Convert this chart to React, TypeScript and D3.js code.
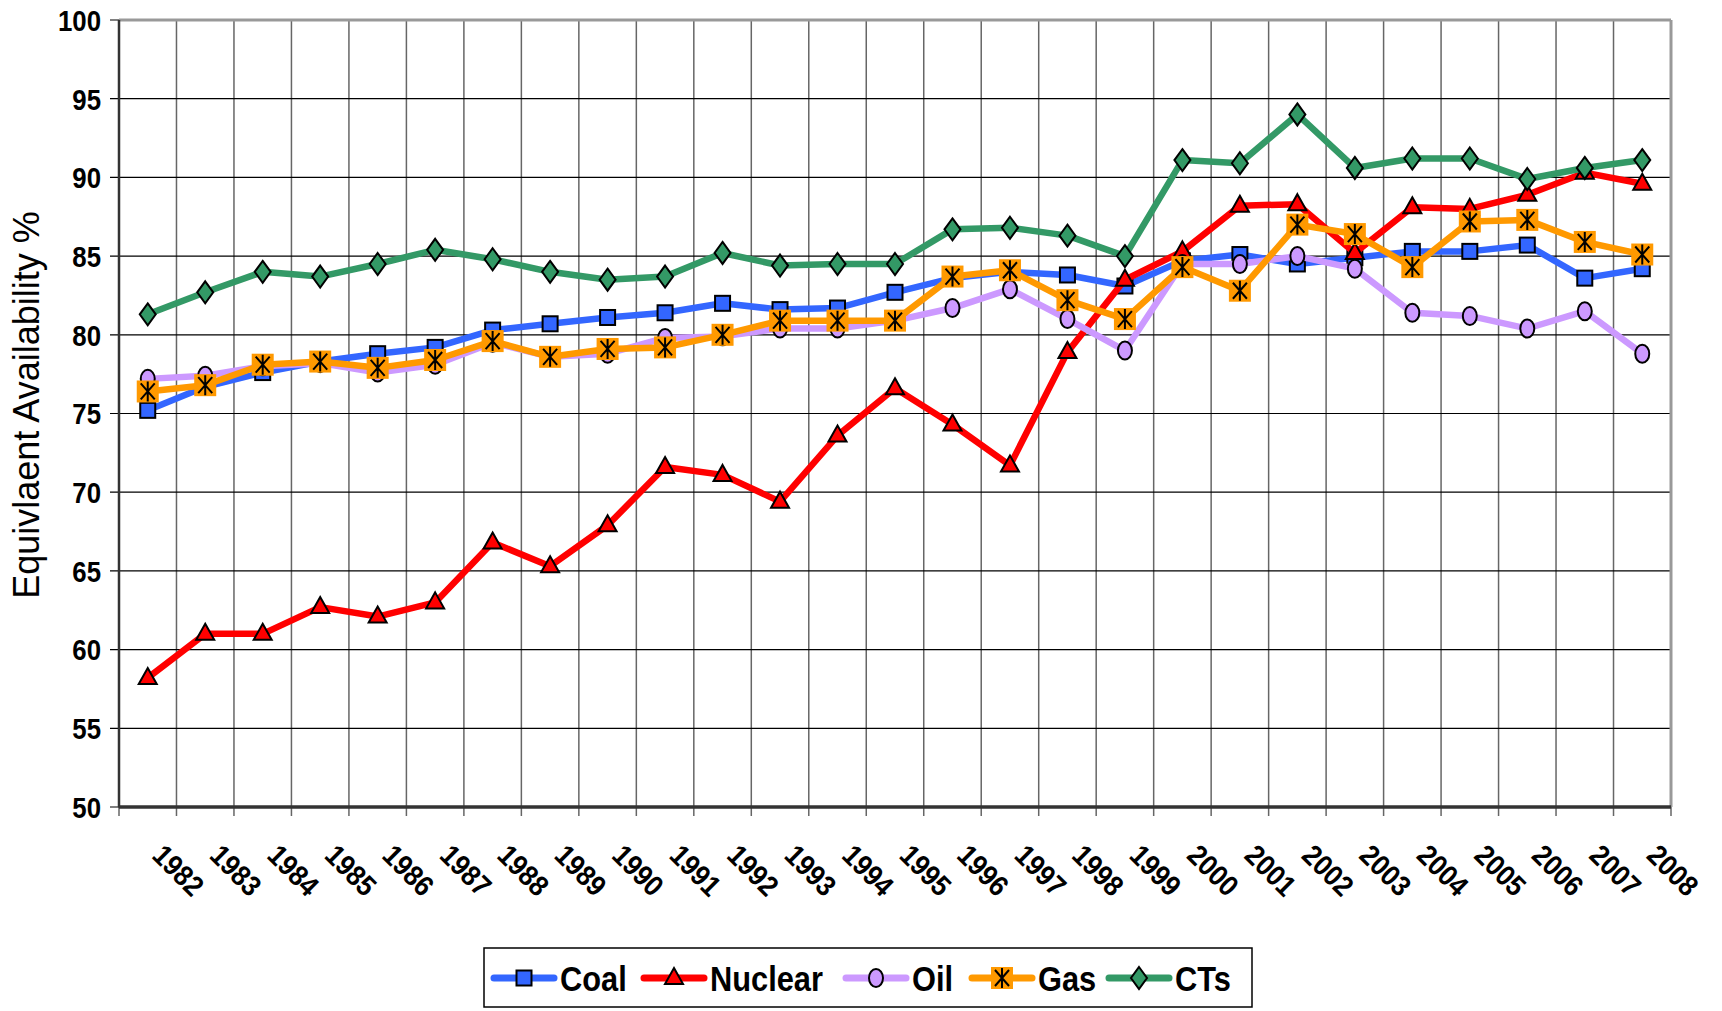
import React from 'react'
import * as d3 from 'd3'

const years = [
  '1982', '1983', '1984', '1985', '1986', '1987', '1988', '1989', '1990',
  '1991', '1992', '1993', '1994', '1995', '1996', '1997', '1998', '1999',
  '2000', '2001', '2002', '2003', '2004', '2005', '2006', '2007', '2008',
]

const coal = [75.2, 76.7, 77.6, 78.3, 78.8, 79.2, 80.3, 80.7, 81.1, 81.4, 82.0, 81.6, 81.7, 82.7, 83.6, 84.0, 83.8, 83.1, 84.7, 85.1, 84.5, 84.9, 85.3, 85.3, 85.7, 83.6, 84.2]
const nuclear = [58.2, 61.0, 61.0, 62.7, 62.1, 63.0, 66.8, 65.3, 67.9, 71.6, 71.1, 69.4, 73.6, 76.6, 74.3, 71.7, 78.9, 83.5, 85.3, 88.2, 88.3, 85.2, 88.1, 88.0, 88.9, 90.3, 89.6]
const oil = [77.2, 77.4, 78.0, 78.2, 77.6, 78.1, 79.5, 78.6, 78.8, 79.8, 79.9, 80.4, 80.4, 80.9, 81.7, 82.9, 81.0, 79.0, 84.5, 84.5, 85.0, 84.2, 81.4, 81.2, 80.4, 81.5, 78.8]
const gas = [76.4, 76.8, 78.1, 78.3, 77.9, 78.4, 79.6, 78.6, 79.1, 79.2, 80.0, 80.9, 80.9, 80.9, 83.7, 84.1, 82.2, 81.0, 84.3, 82.8, 87.0, 86.4, 84.3, 87.2, 87.3, 85.9, 85.1]
const cts = [81.3, 82.7, 84.0, 83.7, 84.5, 85.4, 84.8, 84.0, 83.5, 83.7, 85.2, 84.4, 84.5, 84.5, 86.7, 86.8, 86.3, 85.0, 91.1, 90.9, 94.0, 90.6, 91.2, 91.2, 89.9, 90.6, 91.1]

const yTicks = [50, 55, 60, 65, 70, 75, 80, 85, 90, 95, 100]

type MarkerKind = 'square' | 'triangle' | 'circle' | 'star' | 'diamond'

const series: { name: string; values: number[]; color: string; marker: MarkerKind }[] = [
  { name: 'Coal', values: coal, color: '#3366FF', marker: 'square' },
  { name: 'Nuclear', values: nuclear, color: '#FF0000', marker: 'triangle' },
  { name: 'Oil', values: oil, color: '#CC99FF', marker: 'circle' },
  { name: 'Gas', values: gas, color: '#FF9900', marker: 'star' },
  { name: 'CTs', values: cts, color: '#339966', marker: 'diamond' },
]

const W = 1722
const H = 1011
const plot = { left: 119, right: 1671, top: 20, bottom: 807 }

function Marker({ kind, color, x, y }: { kind: MarkerKind; color: string; x: number; y: number }) {
  const t = `translate(${x},${y})`
  if (kind === 'square')
    return <rect transform={t} x={-7.5} y={-7.5} width={15} height={15} fill={color} stroke="#000" strokeWidth={2} />
  if (kind === 'triangle')
    return <path transform={t} d="M0,-10L9,6L-9,6Z" fill={color} stroke="#000" strokeWidth={2} />
  if (kind === 'circle')
    return <ellipse transform={t} rx={7} ry={9} fill={color} stroke="#000" strokeWidth={2} />
  if (kind === 'diamond')
    return <path transform={t} d="M0,-11L8,0L0,11L-8,0Z" fill={color} stroke="#000" strokeWidth={2} />
  return (
    <g transform={t}>
      <rect x={-11} y={-11} width={22} height={22} fill={color} />
      <path d="M0,-10V10M-7,-8L7,8M7,-8L-7,8" stroke="#000" strokeWidth={2} fill="none" />
    </g>
  )
}

export default function App() {
  const x = d3.scaleBand<string>().domain(years).range([plot.left, plot.right]).padding(0)
  const y = d3.scaleLinear().domain([50, 100]).range([plot.bottom, plot.top])
  const cx = (yr: string) => (x(yr) ?? 0) + x.bandwidth() / 2

  const line = d3.line<number>()
    .x((_, i) => cx(years[i]))
    .y(d => y(d))

  const boundaries = years.map(yr => x(yr) ?? 0).concat([plot.right])

  // legend item start positions
  const legendItems = [
    { i: 0, x: 494 },
    { i: 1, x: 644 },
    { i: 2, x: 846 },
    { i: 3, x: 972 },
    { i: 4, x: 1109 },
  ]

  return (
    <svg width={W} height={H} style={{ position: 'absolute', left: 0, top: 0, background: '#fff' }}
      fontFamily="'Liberation Sans', Arial, sans-serif">
      <rect width={W} height={H} fill="#fff" />

      {/* vertical grid */}
      {boundaries.map((bx, i) => (
        <line key={'v' + i} x1={bx} x2={bx} y1={plot.top} y2={plot.bottom + 9} stroke="#666" strokeWidth={1.5} />
      ))}
      {/* horizontal grid */}
      {yTicks.map(t => (
        <line key={'h' + t} x1={plot.left - 9} x2={plot.right} y1={y(t)} y2={y(t)} stroke="#000" strokeWidth={1.2} />
      ))}
      <line x1={plot.left} x2={plot.right} y1={plot.top} y2={plot.top} stroke="#999" strokeWidth={3} />
      <line x1={plot.right} x2={plot.right} y1={plot.top} y2={plot.bottom} stroke="#999" strokeWidth={3} />
      <line x1={plot.left} x2={plot.left} y1={plot.top} y2={plot.bottom} stroke="#333" strokeWidth={2.5} />
      <line x1={plot.left} x2={plot.right} y1={plot.bottom} y2={plot.bottom} stroke="#333" strokeWidth={3.5} />

      {/* y tick labels */}
      {yTicks.map(t => (
        <text key={'yl' + t} transform={`translate(101,${y(t)}) scale(0.86,1)`} dy="0.36em" textAnchor="end"
          fontSize={30} fontWeight="bold">{t}</text>
      ))}

      {/* x tick labels */}
      {years.map(yr => (
        <text key={'xl' + yr} transform={`translate(${cx(yr) + 3},${plot.bottom + 50}) rotate(45) scale(0.9,1)`}
          fontSize={29} fontWeight="bold">{yr}</text>
      ))}

      <text transform={`translate(39,405) rotate(-90)`} textAnchor="middle" fontSize={36}>
        Equivlaent Availability %
      </text>

      {/* series */}
      {series.map(s => (
        <g key={s.name}>
          <path d={line(s.values) ?? ''} fill="none" stroke={s.color} strokeWidth={6.5} strokeLinejoin="round" />
          {s.values.map((v, i) => (
            <Marker key={i} kind={s.marker} color={s.color} x={cx(years[i])} y={y(v)} />
          ))}
        </g>
      ))}

      {/* legend */}
      <rect x={484} y={948} width={768} height={59} fill="#fff" stroke="#000" strokeWidth={1.5} />
      {legendItems.map(({ i, x: lx }) => {
        const s = series[i]
        return (
          <g key={'lg' + s.name}>
            <line x1={lx} x2={lx + 60} y1={978} y2={978} stroke={s.color} strokeWidth={7} strokeLinecap="round" />
            <Marker kind={s.marker} color={s.color} x={lx + 30} y={978} />
            <text transform={`translate(${lx + 66},978) scale(0.88,1)`} dy="0.36em" fontSize={35} fontWeight="bold">{s.name}</text>
          </g>
        )
      })}
    </svg>
  )
}
